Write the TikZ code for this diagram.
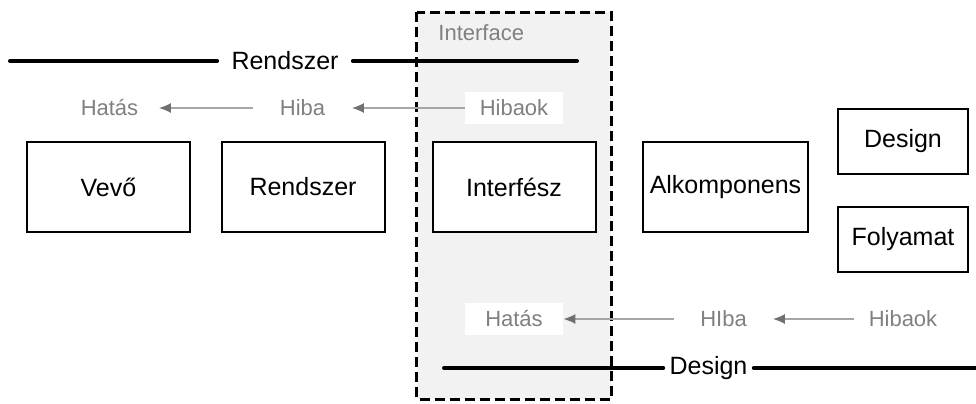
\documentclass[tikz,border=0pt]{standalone}
\usepackage{xcolor}
\usepackage{fontspec}
\setmainfont{Liberation Sans}
\usetikzlibrary{arrows.meta}
\definecolor{ifback}{HTML}{F2F2F2}
\definecolor{labelgray}{HTML}{808080}
\definecolor{linegray}{HTML}{A6A6A6}
\definecolor{tipgray}{HTML}{707070}
\tikzstyle{block} = [rectangle, minimum width=81.5pt, minimum height=45pt, align=center, draw=black, line width=1pt, fill=white, font=\fontsize{12.5}{15}\selectfont]
\tikzstyle{smallblock} = [block, minimum width=65pt, minimum height=32.5pt]
\tikzstyle{heading} = [inner xsep=3pt, font=\fontsize{12.5}{15}\selectfont]
\tikzstyle{flowlabel} = [minimum width=49pt, minimum height=16pt, inner sep=0pt, text=labelgray, font=\fontsize{11}{13}\selectfont]
\tikzstyle{arrow} = [line width=0.75pt, draw=linegray, {Latex[length=6pt,width=5pt,color=tipgray]}-]
\tikzstyle{bar} = [line width=2pt, line cap=round]

\begin{document}
\begin{tikzpicture}[x=0.5pt, y=-0.5pt]
\useasboundingbox (0,0) rectangle (976,403);
% interface region
\draw[fill=ifback, line width=1.5pt, dash pattern=on 5pt off 2.5pt] (416.5,12) rectangle (611,399);
\node (iflabel) [flowlabel, minimum width=0pt, anchor=west] at (438,33) {Interface};

% headings
\node (rszhead) [heading, inner xsep=7pt] at (285,61) {Rendszer};
\node (dsghead) [heading] at (708.5,368) {Design};
\coordinate (rszleft) at (10,61);
\coordinate (rszright) at (577,61);
\coordinate (dsgleft) at (444,368);
\coordinate (dsgright) at (976,368);
\draw[bar] (rszleft) -- (rszhead);
\draw[bar] (rszhead) -- (rszright);
\draw[bar] (dsgleft) -- (dsghead);
\draw[bar] (dsghead) -- (dsgright);

% upper flow
\node (hatas1) [flowlabel] at (109.5,108) {Hatás};
\node (hiba1) [flowlabel] at (302.5,108) {Hiba};
\node (hibaok1) [flowlabel, fill=white] at (514,108) {Hibaok};
\draw[arrow] (hatas1) -- (hiba1);
\draw[arrow] (hiba1) -- (hibaok1);

% blocks
\node (vevo) [block] at (108.5,187) {Vevő};
\node (rendszer) [block] at (303,187) {Rendszer};
\node (interfesz) [block] at (514,187) {Interfész};
\node (alkomp) [block] at (725.5,187) {Alkomponens};
\node (design) [smallblock] at (903,141) {Design};
\node (folyamat) [smallblock] at (903,239) {Folyamat};

% lower flow
\node (hatas2) [flowlabel, fill=white] at (514,319) {Hatás};
\node (hiba2) [flowlabel] at (723.5,319) {HIba};
\node (hibaok2) [flowlabel] at (903,319) {Hibaok};
\draw[arrow] (hatas2) -- (hiba2);
\draw[arrow] (hiba2) -- (hibaok2);
\end{tikzpicture}
\end{document}
